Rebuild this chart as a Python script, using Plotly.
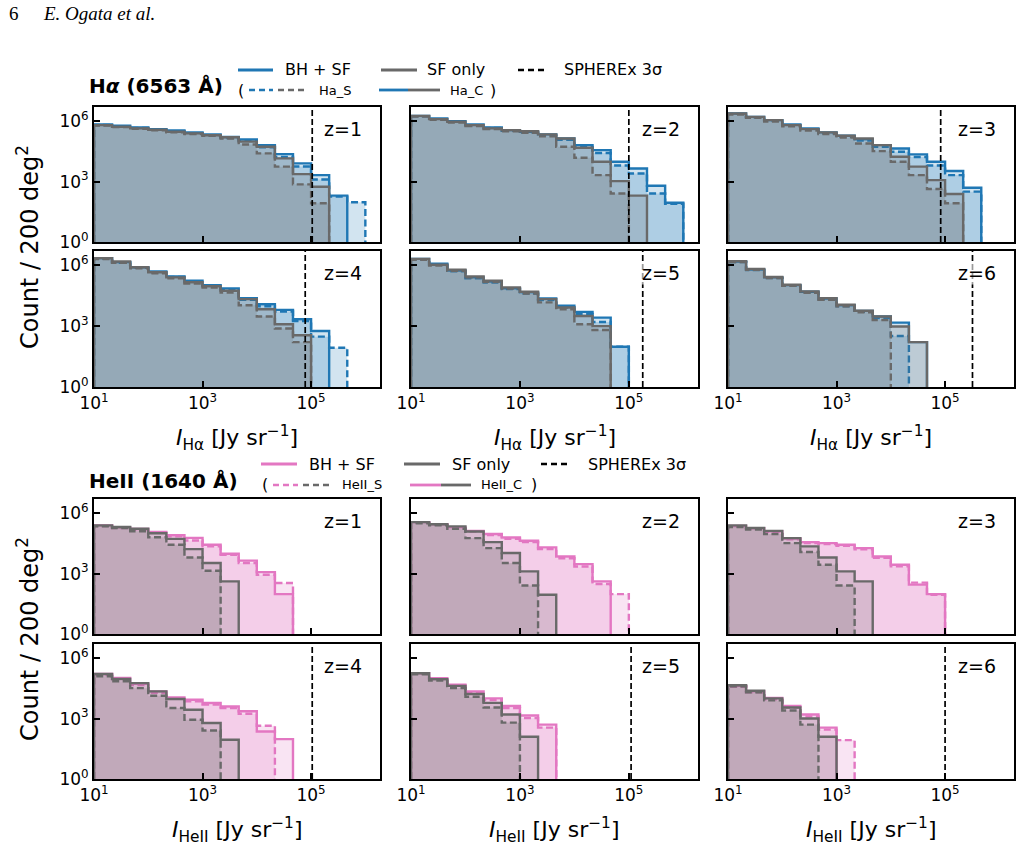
import plotly.graph_objects as go

W, H = 1022, 853

# ---------------- data ----------------
# histogram bin edges: log10(I / Jy sr^-1)
bin_edges_log = [1.0, 1.3333, 1.6667, 2.0, 2.3333, 2.6667, 3.0, 3.3333, 3.6667,
                 4.0, 4.3333, 4.6667, 5.0, 5.3333, 5.6667, 6.0]

# counts per 200 deg^2, stored as log10(count); _bh = BH + SF, _sf = SF only,
# _c = "C" case (solid), _s = "S" case (dashed)
ha_z1_bh_c = [5.83, 5.77, 5.69, 5.60, 5.54, 5.44, 5.34, 5.21, 5.09, 4.81, 4.36, 3.90, 3.32, 2.30]
ha_z1_bh_s = [5.81, 5.74, 5.66, 5.57, 5.50, 5.40, 5.30, 5.16, 5.02, 4.70, 4.22, 3.75, 3.10, 2.25, 1.97]
ha_z1_sf_c = [5.80, 5.72, 5.64, 5.57, 5.47, 5.39, 5.30, 5.20, 4.98, 4.73, 4.15, 3.37, 2.74]
ha_z1_sf_s = [5.78, 5.70, 5.62, 5.54, 5.45, 5.36, 5.27, 5.14, 4.84, 4.40, 3.74, 2.86, 1.92]

ha_z2_bh_c = [6.26, 6.13, 6.00, 5.83, 5.69, 5.55, 5.47, 5.34, 5.14, 4.81, 4.56, 3.98, 3.65, 2.79, 1.95]
ha_z2_bh_s = [6.24, 6.10, 5.97, 5.80, 5.66, 5.52, 5.43, 5.29, 5.07, 4.72, 4.42, 3.80, 3.40, 2.41, 1.90]
ha_z2_sf_c = [6.26, 6.10, 5.97, 5.80, 5.64, 5.55, 5.50, 5.34, 5.14, 4.68, 3.98, 3.02, 2.30]
ha_z2_sf_s = [6.22, 6.07, 5.93, 5.76, 5.60, 5.50, 5.42, 5.24, 4.73, 4.18, 3.32, 2.41]

ha_z3_bh_c = [6.38, 6.21, 6.05, 5.83, 5.64, 5.44, 5.27, 5.10, 4.81, 4.64, 4.35, 3.98, 3.52, 2.69]
ha_z3_bh_s = [6.36, 6.18, 6.02, 5.80, 5.60, 5.40, 5.22, 5.04, 4.72, 4.48, 4.22, 3.80, 3.32, 2.50]
ha_z3_sf_c = [6.38, 6.21, 6.05, 5.80, 5.60, 5.44, 5.27, 5.14, 4.81, 4.23, 3.74, 3.07, 2.38]
ha_z3_sf_s = [6.33, 6.16, 5.98, 5.74, 5.53, 5.36, 5.18, 4.89, 4.51, 3.98, 3.32, 2.63, 1.92]

ha_z4_bh_c = [6.35, 6.15, 5.90, 5.69, 5.45, 5.24, 5.02, 4.86, 4.38, 4.08, 3.80, 3.34, 2.76]
ha_z4_bh_s = [6.33, 6.12, 5.87, 5.65, 5.42, 5.20, 4.98, 4.80, 4.30, 3.98, 3.72, 3.25, 2.48, 1.93]
ha_z4_sf_c = [6.35, 6.18, 5.90, 5.65, 5.40, 5.16, 4.96, 4.74, 4.33, 3.83, 3.09, 2.55]
ha_z4_sf_s = [6.30, 6.12, 5.85, 5.60, 5.35, 5.10, 4.90, 4.65, 4.03, 3.47, 2.88, 2.21]

ha_z5_bh_c = [6.31, 6.07, 5.74, 5.40, 5.19, 4.86, 4.66, 4.36, 4.00, 3.70, 3.42, 1.98]
ha_z5_bh_s = [6.28, 6.03, 5.70, 5.36, 5.14, 4.82, 4.60, 4.28, 3.92, 3.60, 3.20, 1.98]
ha_z5_sf_c = [6.31, 6.02, 5.78, 5.45, 5.24, 4.91, 4.69, 4.33, 3.92, 3.50, 3.00]
ha_z5_sf_s = [6.27, 5.98, 5.72, 5.40, 5.18, 4.85, 4.60, 4.17, 3.83, 3.09, 2.81]

ha_z6_bh_c = [6.18, 5.79, 5.40, 5.02, 4.69, 4.36, 4.03, 3.75, 3.47, 3.17, 2.21]
ha_z6_bh_s = [6.15, 5.76, 5.37, 4.99, 4.65, 4.32, 3.98, 3.70, 3.40, 2.51]
ha_z6_sf_c = [6.20, 5.82, 5.42, 5.04, 4.71, 4.38, 4.05, 3.76, 3.47, 2.98, 2.21]
ha_z6_sf_s = [6.15, 5.77, 5.37, 4.98, 4.64, 4.30, 3.98, 3.68, 3.30]

he_z1_bh_c = [5.39, 5.29, 5.21, 5.06, 4.90, 4.77, 4.43, 3.98, 3.64, 3.07, 1.98]
he_z1_bh_s = [5.36, 5.26, 5.17, 5.02, 4.85, 4.64, 4.35, 3.93, 3.52, 2.94, 2.53]
he_z1_sf_c = [5.39, 5.31, 5.22, 5.00, 4.72, 4.21, 3.52, 2.61]
he_z1_sf_s = [5.34, 5.26, 5.10, 4.80, 4.43, 3.80, 3.14]

he_z2_bh_c = [5.55, 5.45, 5.29, 5.12, 4.96, 4.79, 4.63, 4.30, 3.85, 3.47, 2.61]
he_z2_bh_s = [5.52, 5.42, 5.25, 5.08, 4.91, 4.73, 4.56, 4.22, 3.76, 3.35, 2.48, 1.98]
he_z2_sf_c = [5.55, 5.45, 5.34, 5.09, 4.56, 4.02, 3.11, 1.95]
he_z2_sf_s = [5.50, 5.40, 5.22, 4.76, 4.26, 3.52, 2.41]

he_z3_bh_c = [5.36, 5.25, 5.10, 4.74, 4.56, 4.51, 4.43, 4.26, 3.85, 3.44, 2.45, 1.98]
he_z3_bh_s = [5.33, 5.22, 5.06, 4.70, 4.52, 4.46, 4.38, 4.20, 3.78, 3.36, 2.55, 1.95]
he_z3_sf_c = [5.39, 5.26, 5.12, 4.76, 4.35, 3.80, 3.11, 2.61]
he_z3_sf_s = [5.31, 5.18, 4.96, 4.51, 4.07, 3.44, 2.41]

he_z4_bh_c = [5.21, 5.01, 4.72, 4.35, 4.05, 3.93, 3.77, 3.60, 3.36, 2.36, 1.98]
he_z4_bh_s = [5.16, 4.96, 4.66, 4.28, 3.98, 3.86, 3.70, 3.52, 3.24, 2.64]
he_z4_sf_c = [5.21, 4.96, 4.76, 4.35, 3.97, 3.44, 2.78, 1.95]
he_z4_sf_s = [5.10, 4.85, 4.51, 4.13, 3.52, 2.94, 2.41]

he_z5_bh_c = [5.25, 5.00, 4.68, 4.35, 4.00, 3.62, 3.15, 2.70]
he_z5_bh_s = [5.22, 4.96, 4.63, 4.28, 3.92, 3.52, 3.02, 2.55]
he_z5_sf_c = [5.25, 4.95, 4.62, 4.22, 3.78, 3.20, 2.10]
he_z5_sf_s = [5.20, 4.88, 4.52, 4.08, 3.55, 2.80]

he_z6_bh_c = [4.62, 4.35, 4.02, 3.62, 3.20, 2.55]
he_z6_bh_s = [4.58, 4.30, 3.95, 3.55, 3.10, 2.45, 1.93]
he_z6_sf_c = [4.65, 4.38, 4.00, 3.55, 3.00, 2.10]
he_z6_sf_s = [4.60, 4.30, 3.90, 3.40, 2.70]

redshift_labels = ["z=1", "z=2", "z=3", "z=4", "z=5", "z=6"]
ha_3sigma = [1.05e5, 1.0e5, 8.3e4, 7.8e4, 1.8e5, 3.2e5]          # SPHEREx 3σ, Jy/sr
heii_3sigma = [None, None, None, 1.05e5, 1.1e5, 1.0e5]

x_tickvals = [1e1, 1e3, 1e5]
x_ticktext = ["10<sup>1</sup>", "10<sup>3</sup>", "10<sup>5</sup>"]
y_tickvals = [1, 1e3, 1e6]
y_ticktext = ["10<sup>0</sup>", "10<sup>3</sup>", "10<sup>6</sup>"]
x_range_log = [1.0, 6.27]
y_range_log = [0.0, 6.7]

# ---------------- styling ----------------
BLUE = "#1f77b4"
PINK = "#e377c2"
GRAY = "#696969"
FONT = "DejaVu Sans"
LW = 2.4
DASH = "7px,3.5px"

col_px = [(94, 380), (411, 698), (728, 1014)]
row_px = [(107, 242), (251, 387), (499, 634), (644, 779)]


def px_x(x):
    return x / W


def px_y(y):
    return 1 - y / H


def rgba(hexc, a):
    h = hexc.lstrip("#")
    return "rgba(%d,%d,%d,%.2f)" % (int(h[0:2], 16), int(h[2:4], 16), int(h[4:6], 16), a)


edges = [10 ** e for e in bin_edges_log]

fig = go.Figure()

ha_sets = [
    (ha_z1_bh_s, ha_z1_bh_c, ha_z1_sf_s, ha_z1_sf_c),
    (ha_z2_bh_s, ha_z2_bh_c, ha_z2_sf_s, ha_z2_sf_c),
    (ha_z3_bh_s, ha_z3_bh_c, ha_z3_sf_s, ha_z3_sf_c),
    (ha_z4_bh_s, ha_z4_bh_c, ha_z4_sf_s, ha_z4_sf_c),
    (ha_z5_bh_s, ha_z5_bh_c, ha_z5_sf_s, ha_z5_sf_c),
    (ha_z6_bh_s, ha_z6_bh_c, ha_z6_sf_s, ha_z6_sf_c),
]
he_sets = [
    (he_z1_bh_s, he_z1_bh_c, he_z1_sf_s, he_z1_sf_c),
    (he_z2_bh_s, he_z2_bh_c, he_z2_sf_s, he_z2_sf_c),
    (he_z3_bh_s, he_z3_bh_c, he_z3_sf_s, he_z3_sf_c),
    (he_z4_bh_s, he_z4_bh_c, he_z4_sf_s, he_z4_sf_c),
    (he_z5_bh_s, he_z5_bh_c, he_z5_sf_s, he_z5_sf_c),
    (he_z6_bh_s, he_z6_bh_c, he_z6_sf_s, he_z6_sf_c),
]


def add_hist(logcounts, color, dash, ax):
    n = len(logcounts)
    counts = [10 ** v for v in logcounts]
    xs = [edges[0]] + edges[:n] + [edges[n], edges[n]]
    ys = [1] + counts + [counts[-1], 1]
    fig.add_trace(go.Scatter(
        x=xs, y=ys, mode="lines",
        line=dict(shape="hv", color=color, width=LW, dash=dash),
        fill="toself", fillcolor=rgba(color, 0.2),
        xaxis="x%s" % ax, yaxis="y%s" % ax,
        showlegend=False, hoverinfo="skip"))


layout = dict(
    width=W, height=H,
    margin=dict(l=0, r=0, t=0, b=0, autoexpand=False),
    paper_bgcolor="white", plot_bgcolor="white",
    font=dict(family=FONT, color="black"),
    showlegend=False,
)
shapes = []
annotations = []

for block, (sets, color, thresh) in enumerate([(ha_sets, BLUE, ha_3sigma), (he_sets, PINK, heii_3sigma)]):
    for k in range(6):
        idx = block * 6 + k + 1
        ax = "" if idx == 1 else str(idx)
        row = block * 2 + k // 3
        col = k % 3
        bh_s, bh_c, sf_s, sf_c = sets[k]
        add_hist(bh_s, color, DASH, ax)
        add_hist(bh_c, color, "solid", ax)
        add_hist(sf_s, GRAY, DASH, ax)
        add_hist(sf_c, GRAY, "solid", ax)

        x0, x1 = col_px[col]
        yt, yb = row_px[row]
        show_x = (row % 2 == 1)
        layout["xaxis%s" % ax] = dict(
            type="log", range=x_range_log, domain=[px_x(x0), px_x(x1)],
            anchor="y%s" % ax, showgrid=False, zeroline=False, automargin=False,
            showline=True, mirror=True, linecolor="black", linewidth=2,
            ticks="inside", ticklen=6, tickwidth=1.6, tickcolor="black",
            tickvals=x_tickvals, ticktext=x_ticktext,
            showticklabels=show_x, tickfont=dict(size=17, family=FONT, color="black"),
        )
        layout["yaxis%s" % ax] = dict(
            type="log", range=y_range_log, domain=[px_y(yb), px_y(yt)],
            anchor="x%s" % ax, showgrid=False, zeroline=False, automargin=False,
            showline=True, mirror=True, linecolor="black", linewidth=2,
            ticks="inside", ticklen=6, tickwidth=1.6, tickcolor="black",
            tickvals=y_tickvals, ticktext=y_ticktext,
            showticklabels=(col == 0), tickfont=dict(size=17, family=FONT, color="black"),
        )
        if thresh[k] is not None:
            shapes.append(dict(type="line", xref="x%s" % ax, yref="y%s domain" % ax,
                               x0=thresh[k], x1=thresh[k], y0=0, y1=1, layer="above",
                               line=dict(color="black", width=1.7, dash="6px,3px")))
        annotations.append(dict(
            text=redshift_labels[k], xref="x%s domain" % ax, yref="y%s domain" % ax,
            x=0.94, y=0.835, xanchor="right", yanchor="middle", showarrow=False,
            font=dict(size=19, family=FONT, color="black"),
            bgcolor="rgba(255,255,255,0.6)", borderpad=0))
        if show_x:
            xt = ("<i>I</i><sub>Hα</sub> [Jy sr<sup>−1</sup>]" if block == 0
                  else "<i>I</i><sub>HeII</sub> [Jy sr<sup>−1</sup>]")
            annotations.append(dict(
                text=xt, xref="paper", yref="paper",
                x=px_x((x0 + x1) / 2), y=px_y(yb + 51), xanchor="center", yanchor="middle",
                showarrow=False, font=dict(size=22, family=FONT, color="black")))

# y-axis titles
for yc in [(107 + 387) / 2, (499 + 779) / 2]:
    annotations.append(dict(
        text="Count / 200 deg<sup>2</sup>", xref="paper", yref="paper",
        x=px_x(28), y=px_y(yc), xanchor="center", yanchor="middle", textangle=-90,
        showarrow=False, font=dict(size=24, family=FONT, color="black")))

# header
annotations.append(dict(text="6", xref="paper", yref="paper", x=px_x(7), y=px_y(13),
                        xanchor="left", yanchor="middle", showarrow=False,
                        font=dict(size=19, family="Liberation Serif", color="black")))
annotations.append(dict(text="<i>E. Ogata et al.</i>", xref="paper", yref="paper",
                        x=px_x(41), y=px_y(13), xanchor="left", yanchor="middle", showarrow=False,
                        font=dict(size=19, family="Liberation Serif", color="black")))


def seg(xa, xb, y, color, dash):
    shapes.append(dict(type="line", xref="paper", yref="paper",
                       x0=px_x(xa), x1=px_x(xb), y0=px_y(y), y1=px_y(y),
                       line=dict(color=color, width=2.8 if dash == "solid" else 2.4, dash=dash)))


def txt(s, x, y, size, bold=False):
    annotations.append(dict(text=("<b>%s</b>" % s) if bold else s, xref="paper", yref="paper",
                            x=px_x(x), y=px_y(y), xanchor="left", yanchor="middle",
                            showarrow=False, font=dict(size=size, family=FONT, color="black")))


LDASH = "6px,4px"
# H-alpha legend block
txt("H<i>α</i> (6563 Å)", 87, 86, 20, bold=True)
seg(238, 273, 70, BLUE, "solid"); txt("BH + SF", 283, 70, 16)
seg(381, 417, 70, GRAY, "solid"); txt("SF only", 425, 70, 16)
seg(518, 548, 70, "black", LDASH); txt("SPHEREx 3σ", 562, 70, 16)
txt("(", 236, 90, 16)
seg(249, 273, 90, BLUE, LDASH); seg(278, 306, 90, GRAY, LDASH); txt("Ha_S", 317, 90, 13)
seg(379, 408, 90, BLUE, "solid"); seg(408, 440, 90, GRAY, "solid"); txt("Ha_C", 448, 90, 13)
txt(")", 488, 90, 16)

# HeII legend block
txt("HeII (1640 Å)", 87, 481, 20, bold=True)
seg(261, 297, 464, PINK, "solid"); txt("BH + SF", 307, 464, 16)
seg(404, 440, 464, GRAY, "solid"); txt("SF only", 450, 464, 16)
seg(541, 571, 464, "black", LDASH); txt("SPHEREx 3σ", 586, 464, 16)
txt("(", 260, 485, 16)
seg(273, 298, 485, PINK, LDASH); seg(303, 330, 485, GRAY, LDASH); txt("HeII_S", 340, 485, 13)
seg(410, 441, 485, PINK, "solid"); seg(441, 471, 485, GRAY, "solid"); txt("HeII_C", 479, 485, 13)
txt(")", 529, 485, 16)

layout["shapes"] = shapes
layout["annotations"] = annotations
fig.update_layout(**layout)

fig.write_html("out.html")
